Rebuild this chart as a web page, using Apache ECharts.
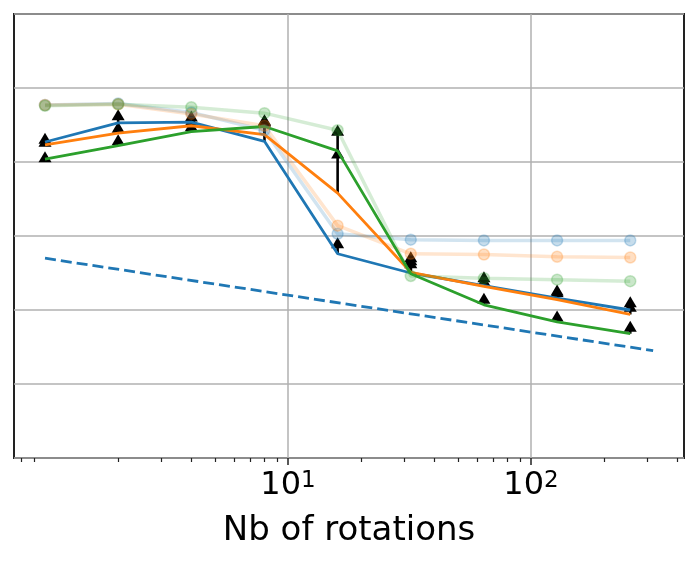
<!DOCTYPE html>
<html>
<head>
<meta charset="utf-8">
<script src="https://cdn.jsdelivr.net/npm/echarts@6/dist/echarts.min.js"></script>
<style>html,body{margin:0;padding:0;background:#fff}#c{width:698px;height:562px}</style>
</head>
<body>
<div id="c"></div>
<script>
const xValues = [1, 2, 4, 8, 16, 32, 64, 128, 256];
const blueMean   = [4.27, 4.53, 4.54, 4.28, 2.76, 2.50, 2.33, 2.16, 2.00];
const orangeMean = [4.23, 4.39, 4.49, 4.37, 3.58, 2.51, 2.32, 2.14, 1.94];
const greenMean  = [4.04, 4.22, 4.41, 4.48, 4.15, 2.49, 2.07, 1.84, 1.68];
const blueRef    = [4.77, 4.79, 4.67, 4.43, 3.03, 2.95, 2.94, 2.94, 2.94];
const orangeRef  = [4.77, 4.78, 4.65, 4.49, 3.14, 2.76, 2.75, 2.72, 2.71];
const greenRef   = [4.76, 4.78, 4.74, 4.66, 4.43, 2.46, 2.43, 2.41, 2.39];
const blueUpper   = [4.32, 4.64, 4.62, 4.55, 2.91, 2.68, 2.45, 2.27, 2.11];
const orangeUpper = [4.28, 4.47, 4.56, 4.56, 4.43, 2.72, 2.40, 2.25, 2.05];
const greenUpper  = [4.07, 4.30, 4.49, 4.57, 4.12, 2.64, 2.16, 1.92, 1.78];
const trendX = [1, 318];
const trendY = [2.70, 1.45];
const xMajorTicks = [10, 100];
const xMinorTicks = [0.8, 0.9, 2, 3, 4, 5, 6, 7, 8, 9, 20, 30, 40, 50, 60, 70, 80, 90, 200, 300, 400];
const xAxisName = 'Nb of rotations';

const C = { blue: '#1f77b4', orange: '#ff7f0e', green: '#2ca02c' };
const zip = (xs, ys) => xs.map((x, i) => [x, ys[i]]);
const zip3 = (xs, a, b) => xs.map((x, i) => [x, a[i], b[i]]);

function solid(color, vals) {
  return { type: 'line', data: zip(xValues, vals), showSymbol: false, symbol: 'none',
    lineStyle: { color, width: 2.8 }, itemStyle: { color }, silent: true, animation: false };
}
function light(color, vals) {
  return { type: 'line', data: zip(xValues, vals), symbol: 'circle', symbolSize: 11, showSymbol: true,
    lineStyle: { color, width: 3.5, opacity: 0.2 },
    itemStyle: { color, opacity: 0.25, borderColor: color, borderWidth: 1.5 },
    silent: true, animation: false };
}
function stems(mean, upper) {
  return { type: 'custom', data: zip3(xValues, mean, upper), encode: { x: 0, y: [1, 2] },
    renderItem: (params, api) => {
      const p1 = api.coord([api.value(0), api.value(1)]);
      const p2 = api.coord([api.value(0), api.value(2)]);
      return { type: 'line', shape: { x1: p1[0], y1: p1[1], x2: p2[0], y2: p2[1] },
        style: { stroke: '#000', lineWidth: 2.6 } };
    }, silent: true, animation: false };
}
function tris(upper) {
  return { type: 'scatter', data: zip(xValues, upper), symbol: 'triangle', symbolSize: [13, 11],
    itemStyle: { color: '#000', opacity: 1 }, silent: true, animation: false };
}

const chart = echarts.init(document.getElementById('c'), null, { renderer: 'canvas' });
chart.setOption({
  animation: false,
  grid: { left: 14, top: 14, right: 14, bottom: 104, show: true, borderColor: '#222', borderWidth: 2, backgroundColor: 'transparent' },
  xAxis: [
    { type: 'log', logBase: 10, min: 0.7455, max: 426, position: 'bottom',
      name: xAxisName, nameLocation: 'middle', nameGap: 56,
      nameTextStyle: { fontFamily: 'DejaVu Sans', fontSize: 34, color: '#000' },
      axisLine: { show: false },
      axisTick: { show: true, length: 7, lineStyle: { color: '#222', width: 1.5 }, customValues: xMajorTicks },
      axisLabel: { show: true, margin: 12, customValues: xMajorTicks,
        formatter: v => '{a|10}{b|' + Math.round(Math.log10(v)) + '}',
        rich: { a: { fontFamily: 'DejaVu Sans', fontSize: 32, color: '#000' },
                b: { fontFamily: 'DejaVu Sans', fontSize: 23, color: '#000', verticalAlign: 'top' } } },
      splitLine: { show: true, lineStyle: { color: '#b0b0b0', width: 1.5 } },
      minorTick: { show: false }, minorSplitLine: { show: false } },
    { type: 'log', logBase: 10, min: 0.7455, max: 426, position: 'bottom', offset: 0,
      axisLine: { show: false }, axisLabel: { show: false }, splitLine: { show: false },
      axisTick: { show: true, length: 4, lineStyle: { color: '#222', width: 1.2 }, customValues: xMinorTicks } }
  ],
  yAxis: { type: 'value', min: 0, max: 6, interval: 1,
    axisLine: { show: false }, axisTick: { show: false }, axisLabel: { show: false },
    splitLine: { show: true, lineStyle: { color: '#b0b0b0', width: 1.5 } } },
  series: [
    solid(C.blue, blueMean), stems(blueMean, blueUpper), tris(blueUpper), light(C.blue, blueRef),
    solid(C.orange, orangeMean), stems(orangeMean, orangeUpper), tris(orangeUpper), light(C.orange, orangeRef),
    solid(C.green, greenMean), stems(greenMean, greenUpper), tris(greenUpper), light(C.green, greenRef),
    { type: 'line', data: zip(trendX, trendY), symbol: 'none', showSymbol: false,
      lineStyle: { color: C.blue, width: 2.8, type: [11, 5] }, silent: true, animation: false }
  ]
});
</script>
</body>
</html>
